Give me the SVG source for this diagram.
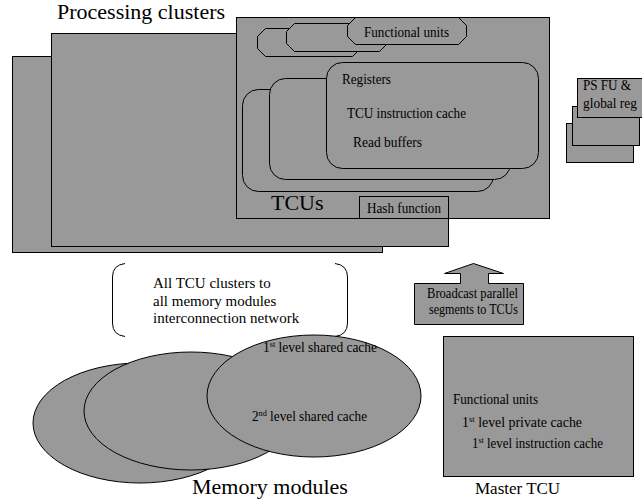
<svg xmlns="http://www.w3.org/2000/svg" width="642" height="500" viewBox="0 0 642 500">
  <style>
    .box { fill: #999999; stroke: #000000; stroke-width: 1; }
    .line { fill: none; stroke: #000000; stroke-width: 1; }
    text { font-family: 'Liberation Serif', 'Times New Roman', Times, 'DejaVu Serif', serif; fill: #000000; }
    .big { font-size: 22px; }
    .lbl { font-size: 14.5px; }
    .net { font-size: 15px; }
    .cap { font-size: 17px; }
    .sup { font-size: 9px; }
  </style>
  <rect width="642" height="500" fill="#ffffff"/>

  <!-- processing clusters stack -->
  <g id="processing-clusters">
    <rect class="box" x="12.5" y="56.5" width="370" height="196"/>
    <rect class="box" x="51.5" y="33.5" width="397" height="213"/>
    <text class="big" x="57" y="19" font-family="Liberation Serif, serif">Processing clusters</text>
  </g>

  <!-- cluster detail: TCUs with functional units -->
  <g id="tcu-cluster">
    <rect class="box" x="236.5" y="17.5" width="313" height="201"/>
    <polygon class="box" points="265.5,28.5 352.5,28.5 360.5,36.5 360.5,48.5 352.5,56.5 265.5,56.5 257.5,48.5 257.5,36.5"/>
    <polygon class="box" points="294.5,23.5 379.5,23.5 387.5,31.5 387.5,43.5 379.5,51.5 294.5,51.5 286.5,43.5 286.5,31.5"/>
    <polygon class="box" points="355.5,17.5 458.5,17.5 466.5,25.5 466.5,36.5 458.5,44.5 355.5,44.5 347.5,36.5 347.5,25.5"/>
    <text class="lbl" x="364" y="37" textLength="85" lengthAdjust="spacingAndGlyphs">Functional units</text>
    <rect class="box" x="242.5" y="89.5" width="251" height="102" rx="16"/>
    <rect class="box" x="269.5" y="78.5" width="241" height="101" rx="16"/>
    <rect class="box" x="326.5" y="62.5" width="212" height="106" rx="16"/>
    <text class="lbl" x="342" y="84" textLength="49" lengthAdjust="spacingAndGlyphs">Registers</text>
    <text class="lbl" x="347" y="118" textLength="119" lengthAdjust="spacingAndGlyphs">TCU instruction cache</text>
    <text class="lbl" x="353" y="147" textLength="69" lengthAdjust="spacingAndGlyphs">Read buffers</text>
    <text class="big" x="271" y="210">TCUs</text>
  </g>

  <g id="hash-function">
    <rect class="box" x="359.5" y="196.5" width="89" height="22"/>
    <text class="lbl" x="367" y="213" textLength="74" lengthAdjust="spacingAndGlyphs">Hash function</text>
  </g>

  <!-- prefix-sum units -->
  <g id="ps-fu">
    <rect class="box" x="566.5" y="123.5" width="67" height="39"/>
    <rect class="box" x="572.5" y="106.5" width="67" height="39"/>
    <rect class="box" x="577.5" y="78.5" width="65" height="39"/>
    <text class="lbl" x="583" y="90" textLength="48" lengthAdjust="spacingAndGlyphs">PS FU &amp;</text>
    <text class="lbl" x="583" y="108" textLength="54" lengthAdjust="spacingAndGlyphs">global reg</text>
  </g>

  <!-- interconnection network -->
  <g id="interconnect">
    <path class="line" d="M125,263.5 Q112.5,265 112.5,277 L112.5,323 Q112.5,335 125,336.5"/>
    <path class="line" d="M335,263.5 Q347.5,265 347.5,277 L347.5,323 Q347.5,335 335,336.5"/>
    <text class="net" x="153" y="288">All TCU clusters to</text>
    <text class="net" x="153" y="306">all memory modules</text>
    <text class="net" x="153" y="323">interconnection network</text>
  </g>

  <!-- memory modules -->
  <g id="memory-modules">
    <ellipse class="box" cx="140" cy="423" rx="107" ry="60"/>
    <ellipse class="box" cx="191" cy="411" rx="107" ry="59"/>
    <ellipse class="box" cx="314" cy="396" rx="107" ry="61"/>
    <text class="lbl" x="263" y="352" textLength="114" lengthAdjust="spacingAndGlyphs">1<tspan class="sup" dy="-5">st</tspan><tspan dy="5"> level shared cache</tspan></text>
    <text class="lbl" x="252" y="421" textLength="115" lengthAdjust="spacingAndGlyphs">2<tspan class="sup" dy="-5">nd</tspan><tspan dy="5"> level shared cache</tspan></text>
    <text class="big" x="192" y="494">Memory modules</text>
  </g>

  <!-- broadcast from master -->
  <g id="connectors">
    <path class="box" d="M414.5,283.5 L460.5,283.5 L460.5,273.5 L444.5,273.5 L473.5,263.5 L503.5,273.5 L488.5,273.5 L488.5,283.5 L523.5,283.5 L523.5,324.5 L414.5,324.5 Z"/>
  </g>
  <g id="broadcast">
    <text class="lbl" x="427" y="298" textLength="91" lengthAdjust="spacingAndGlyphs">Broadcast parallel</text>
    <text class="lbl" x="429" y="314" textLength="89" lengthAdjust="spacingAndGlyphs">segments to TCUs</text>
  </g>

  <!-- master TCU -->
  <g id="master-tcu">
    <rect class="box" x="443.5" y="336.5" width="190" height="140"/>
    <text class="lbl" x="453" y="404" textLength="85" lengthAdjust="spacingAndGlyphs">Functional units</text>
    <text class="lbl" x="462" y="427" textLength="120" lengthAdjust="spacingAndGlyphs">1<tspan class="sup" dy="-5">st</tspan><tspan dy="5"> level private cache</tspan></text>
    <text class="lbl" x="472" y="448" textLength="131" lengthAdjust="spacingAndGlyphs">1<tspan class="sup" dy="-5">st</tspan><tspan dy="5"> level instruction cache</tspan></text>
    <text class="cap" x="475" y="494">Master TCU</text>
  </g>
</svg>
